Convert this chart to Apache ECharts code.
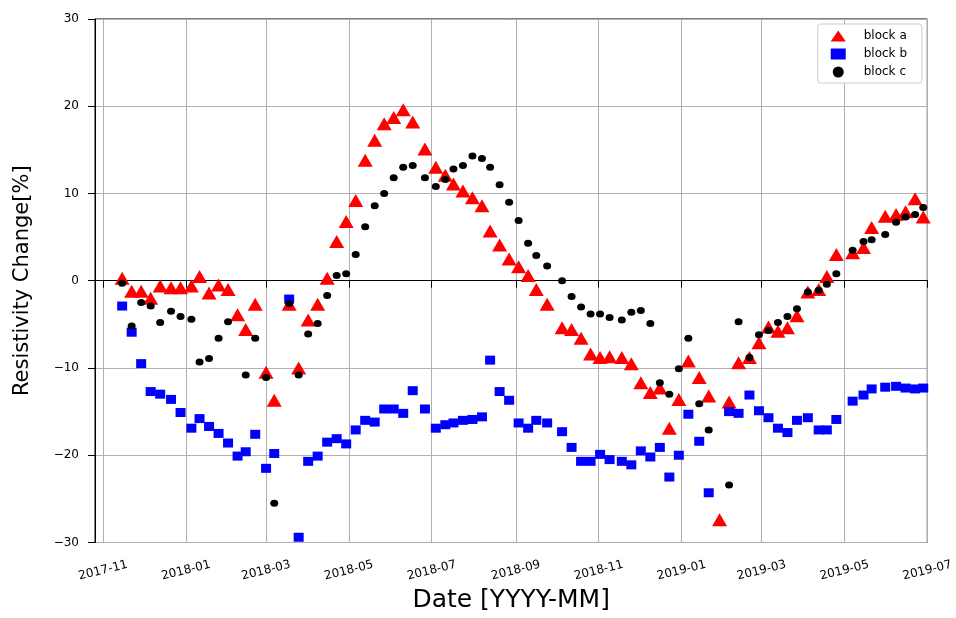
<!DOCTYPE html>
<html><head><meta charset="utf-8">
<script src="https://cdn.jsdelivr.net/npm/echarts@6/dist/echarts.min.js"></script>
<style>html,body{margin:0;padding:0;background:#fff}#c{width:956px;height:618px}</style>
</head><body><div id="c"></div>
<script>
const dates = [
'2017-11-15','2017-11-22','2017-11-29','2017-12-06','2017-12-13','2017-12-21','2017-12-28',
'2018-01-05','2018-01-11','2018-01-18','2018-01-25','2018-02-01','2018-02-08','2018-02-14','2018-02-21',
'2018-03-01','2018-03-07','2018-03-18','2018-03-25','2018-04-01','2018-04-08','2018-04-15','2018-04-22','2018-04-29',
'2018-05-06','2018-05-13','2018-05-20','2018-05-27','2018-06-03','2018-06-10','2018-06-17','2018-06-26',
'2018-07-04','2018-07-11','2018-07-17','2018-07-24','2018-07-31','2018-08-07','2018-08-13','2018-08-20','2018-08-27',
'2018-09-03','2018-09-10','2018-09-16','2018-09-24','2018-10-05','2018-10-12','2018-10-19','2018-10-26',
'2018-11-02','2018-11-09','2018-11-18','2018-11-25','2018-12-02','2018-12-09','2018-12-16','2018-12-23','2018-12-30',
'2019-01-06','2019-01-14','2019-01-21','2019-01-29','2019-02-05','2019-02-12','2019-02-20','2019-02-27',
'2019-03-06','2019-03-13','2019-03-20','2019-03-27','2019-04-04','2019-04-12','2019-04-18','2019-04-25',
'2019-05-07','2019-05-15','2019-05-21','2019-05-31','2019-06-08','2019-06-15','2019-06-22','2019-06-28'
];
const blockA = [
0.3,-1.2,-1.2,-2.0,-0.6,-0.8,-0.8,-0.6,0.5,-1.4,
-0.5,-1.0,-3.9,-5.6,-2.7,-10.5,-13.7,-2.7,-10.0,-4.5,
-2.7,0.3,4.5,6.8,9.2,13.8,16.1,18.0,18.7,19.6,
18.2,15.1,13.0,12.1,11.1,10.3,9.5,8.6,5.7,4.1,
2.5,1.6,0.6,-1.0,-2.7,-5.4,-5.6,-6.6,-8.4,-8.8,
-8.7,-8.8,-9.5,-11.7,-12.8,-12.3,-16.9,-13.6,-9.2,-11.1,
-13.2,-27.4,-13.9,-9.4,-8.8,-7.1,-5.3,-5.8,-5.4,-4.0,
-1.3,-1.0,0.5,3.0,3.2,3.8,6.1,7.4,7.6,7.9,
9.4,7.3
];
const blockB = [
-2.9,-5.9,-9.5,-12.7,-13.0,-13.6,-15.1,-16.9,-15.8,-16.7,
-17.5,-18.6,-20.1,-19.6,-17.6,-21.5,-19.8,-2.1,-29.4,-20.7,
-20.1,-18.5,-18.1,-18.7,-17.1,-16.0,-16.2,-14.7,-14.7,-15.2,
-12.6,-14.7,-16.9,-16.5,-16.3,-16.0,-15.9,-15.6,-9.1,-12.7,
-13.7,-16.3,-16.9,-16.0,-16.3,-17.3,-19.1,-20.7,-20.7,-19.9,
-20.5,-20.7,-21.1,-19.5,-20.2,-19.1,-22.5,-20.0,-15.3,-18.4,
-24.3,null,-15.0,-15.2,-13.1,-14.9,-15.7,-16.9,-17.4,-16.0,
-15.7,-17.1,-17.1,-15.9,-13.8,-13.1,-12.4,-12.2,-12.1,-12.3,
-12.4,-12.3
];
const blockC = [
-0.3,-5.2,-2.5,-2.9,-4.8,-3.5,-4.1,-4.4,-9.3,-8.9,
-6.6,-4.7,null,-10.8,-6.6,-11.1,-25.5,-2.6,-10.8,-6.1,
-4.9,-1.7,0.6,0.8,3.0,6.2,8.6,10.0,11.8,13.0,
13.2,11.8,10.8,11.6,12.8,13.2,14.3,14.0,13.0,11.0,
9.0,6.9,4.3,2.9,1.7,0.0,-1.8,-3.0,-3.8,-3.8,
-4.2,-4.5,-3.6,-3.4,-4.9,-11.7,-13.0,-10.1,-6.6,-14.1,
-17.1,null,-23.4,-4.7,-8.8,-6.2,-5.7,-4.8,-4.1,-3.2,
-1.3,-1.1,-0.4,0.8,3.5,4.5,4.7,5.3,6.7,7.3,
7.6,8.4
];
const seriesNames = ['block a','block b','block c'];
const xTickLabels = ['2017-11','2018-01','2018-03','2018-05','2018-07','2018-09','2018-11','2019-01','2019-03','2019-05','2019-07'];
const xMinDate = '2017-10-26';
const xMaxDate = '2019-07-01';
const yMin = -30, yMax = 30, yStep = 10;

function toTime(s) {
  const p = s.split('-').map(Number);
  return Date.UTC(p[0], p[1] - 1, p[2] || 1);
}
function pairs(vals) {
  const out = [];
  dates.forEach((d, i) => { if (vals[i] !== null) out.push([toTime(d), vals[i]]); });
  return out;
}
const tickTimes = xTickLabels.map(toTime);
const FONT = 'DejaVu Sans';

const chart = echarts.init(document.getElementById('c'), null, {renderer: 'canvas'});
chart.setOption({
  animation: false,
  backgroundColor: '#fff',
  textStyle: {fontFamily: FONT},
  grid: {left: 95, right: 28, top: 19, bottom: 70, show: true, borderColor: '#000', borderWidth: 1, backgroundColor: 'transparent'},
  xAxis: {
    type: 'value',
    min: toTime(xMinDate), max: toTime(xMaxDate),
    name: 'Date [YYYY-MM]', nameLocation: 'middle', nameGap: 45,
    nameTextStyle: {fontFamily: FONT, fontSize: 25, color: '#000'},
    axisLine: {lineStyle: {color: '#000', width: 1}},
    axisTick: {show: true, length: 7, lineStyle: {color: '#000'}, customValues: tickTimes},
    axisLabel: {
      customValues: tickTimes, rotate: 14, fontSize: 12, color: '#000', fontFamily: FONT,
      margin: 28, align: 'center', verticalAlign: 'middle', showMinLabel: true, showMaxLabel: true,
      formatter: function (v) { const i = tickTimes.indexOf(v); return i >= 0 ? xTickLabels[i] : ''; }
    },
    splitLine: {show: true, lineStyle: {color: '#b0b0b0', width: 1}}
  },
  yAxis: {
    type: 'value', min: yMin, max: yMax, interval: yStep,
    name: 'Resistivity Change[%]', nameLocation: 'middle', nameGap: 62, nameRotate: 90,
    nameTextStyle: {fontFamily: FONT, fontSize: 21, color: '#000'},
    axisLine: {show: true, lineStyle: {color: '#000', width: 1}},
    axisTick: {show: true, length: 7, lineStyle: {color: '#000'}},
    axisLabel: {fontSize: 12, color: '#000', margin: 16, fontFamily: FONT,
      formatter: v => String(v).replace('-', '\u2212')},
    splitLine: {show: true, lineStyle: {color: '#b0b0b0', width: 1}}
  },
  legend: {
    orient: 'vertical', right: 34, top: 24,
    backgroundColor: '#fff', borderColor: '#cccccc', borderWidth: 1, borderRadius: 3,
    padding: [6, 15, 5, 13], itemGap: 6, itemWidth: 15, itemHeight: 11,
    textStyle: {fontSize: 12, color: '#000', fontFamily: FONT, padding: [0, 0, 0, 13]},
    data: [
      {name: seriesNames[0], icon: 'triangle'},
      {name: seriesNames[1], icon: 'rect'},
      {name: seriesNames[2], icon: 'circle'}
    ]
  },
  series: [
    {name: seriesNames[0], type: 'scatter', symbol: 'triangle', symbolSize: [15, 13],
      itemStyle: {color: '#ff0000', opacity: 1}, data: pairs(blockA)},
    {name: seriesNames[1], type: 'scatter', symbol: 'rect', symbolSize: [10, 9],
      itemStyle: {color: '#0000ff', opacity: 1}, data: pairs(blockB)},
    {name: seriesNames[2], type: 'scatter', symbol: 'circle', symbolSize: [8, 7],
      itemStyle: {color: '#000000', opacity: 1}, data: pairs(blockC)}
  ]
});
</script></body></html>
